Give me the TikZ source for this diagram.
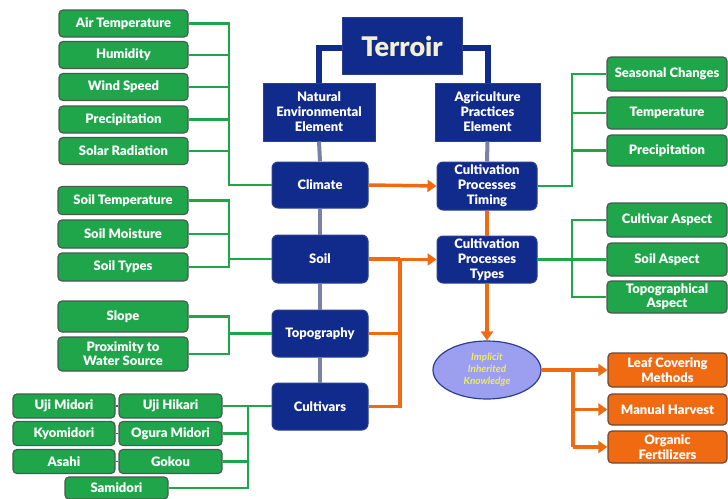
\documentclass[tikz,border=0pt]{standalone}
\usepackage{fontspec}
\setmainfont{Lato}[BoldFont={Lato Black},BoldItalicFont={Lato Bold Italic}]
\usetikzlibrary{arrows.meta,shapes.geometric}
\definecolor{gfill}{HTML}{1FA64B}
\definecolor{gbord}{HTML}{4A5A50}
\definecolor{navy}{HTML}{112B8C}
\definecolor{navyb}{HTML}{2A3F8F}
\definecolor{grayln}{HTML}{7A80A8}
\definecolor{orng}{HTML}{F06A12}
\definecolor{obord}{HTML}{6A4A3A}
\definecolor{lav}{HTML}{9C9FF0}
\definecolor{ytext}{HTML}{EEEE55}
\definecolor{tertxt}{HTML}{F4F0D2}
\begin{document}
\begin{tikzpicture}[x=1pt,y=-1pt,
  gbox/.style={draw=gbord, fill=gfill, rounded corners=4pt, line width=1.2pt, text=white,
    font=\bfseries\fontsize{13}{14}\selectfont, align=center, inner sep=0pt},
  bbox/.style={draw=navyb, fill=navy, line width=1pt, text=white,
    font=\bfseries\fontsize{13}{15}\selectfont, align=center, inner sep=0pt},
  rbox/.style={bbox, rounded corners=6pt},
  obox/.style={draw=obord, fill=orng, rounded corners=4pt, line width=1.2pt, text=white,
    font=\bfseries\fontsize{13}{15}\selectfont, align=center, inner sep=0pt},
  gline/.style={draw=gfill, line width=2.6pt},
  nline/.style={draw=navy, line width=6pt},
  grline/.style={draw=grayln, line width=4pt},
  oline/.style={draw=orng, line width=3.5pt},
  oarrow/.style={oline, -{Triangle[width=12pt,length=9pt]}},
  sline/.style={draw=gbord, line width=1.5pt}
]
\useasboundingbox (0,0) rectangle (728,498);
% ---- blue nodes
\node[bbox, minimum width=120pt, minimum height=57pt, font=\bfseries\fontsize{27}{28}\selectfont, text=tertxt] (terroir) at (402,46) {Terroir};
\node[bbox, minimum width=112pt, minimum height=58pt] (natural) at (319,112) {Natural\\Environmental\\Element};
\node[bbox, minimum width=105pt, minimum height=58pt] (agri) at (487.5,112) {Agriculture\\Practices\\Element};
\node[rbox, minimum width=96pt, minimum height=46pt] (climate) at (320,185) {Climate};
\node[rbox, minimum width=96pt, minimum height=48pt] (soil) at (320,259) {Soil};
\node[rbox, minimum width=96pt, minimum height=47pt] (topo) at (320,333.5) {Topography};
\node[rbox, minimum width=96pt, minimum height=47pt] (cultivars) at (320,406.5) {Cultivars};
\node[rbox, minimum width=100pt, minimum height=48pt] (timing) at (487,186) {Cultivation\\Processes\\Timing};
\node[rbox, minimum width=100pt, minimum height=47pt] (types) at (487,259.5) {Cultivation\\Processes\\Types};
\node[ellipse, draw=navyb, fill=lav, line width=1.2pt, minimum width=108pt, minimum height=58pt, inner sep=0pt,
  text=ytext, align=center, font=\bfseries\itshape\fontsize{10}{12}\selectfont] (ell) at (487,370) {Implicit\\Inherited\\Knowledge};
% ---- left green nodes
\node[gbox, minimum width=129pt, minimum height=27pt] (airt) at (123.5,23.5) {Air Temperature};
\node[gbox, minimum width=129pt, minimum height=27pt] (hum) at (123.5,55) {Humidity};
\node[gbox, minimum width=129pt, minimum height=27pt] (wind) at (123.5,87) {Wind Speed};
\node[gbox, minimum width=129pt, minimum height=27pt] (prec) at (123.5,119.5) {Precipitation};
\node[gbox, minimum width=129pt, minimum height=27pt] (solar) at (123.5,151) {Solar Radiation};
\node[gbox, minimum width=130pt, minimum height=28pt] (soilt) at (123,200.5) {Soil Temperature};
\node[gbox, minimum width=130pt, minimum height=28pt] (soilm) at (123,234) {Soil Moisture};
\node[gbox, minimum width=130pt, minimum height=28pt] (soilty) at (123,267) {Soil Types};
\node[gbox, minimum width=130pt, minimum height=31pt] (slope) at (123,316.5) {Slope};
\node[gbox, minimum width=130pt, minimum height=34pt] (prox) at (123,354) {Proximity to\\Water Source};
\node[gbox, minimum width=102pt, minimum height=24pt] (ujim) at (64,406) {Uji Midori};
\node[gbox, minimum width=103pt, minimum height=24pt] (ujih) at (170.5,406) {Uji Hikari};
\node[gbox, minimum width=102pt, minimum height=24pt] (kyo) at (64,433.5) {Kyomidori};
\node[gbox, minimum width=103pt, minimum height=24pt] (ogura) at (170.5,433.5) {Ogura Midori};
\node[gbox, minimum width=102pt, minimum height=24pt] (asahi) at (64,461.5) {Asahi};
\node[gbox, minimum width=103pt, minimum height=24pt] (gokou) at (170.5,461.5) {Gokou};
\node[gbox, minimum width=103pt, minimum height=22pt] (sami) at (116.5,488) {Samidori};
% ---- right green nodes
\node[gbox, minimum width=120pt, minimum height=34pt] (seas) at (667,74) {Seasonal Changes};
\node[gbox, minimum width=120pt, minimum height=32pt] (temp) at (667,113) {Temperature};
\node[gbox, minimum width=120pt, minimum height=31pt] (precr) at (667,150.5) {Precipitation};
\node[gbox, minimum width=120pt, minimum height=34pt] (cula) at (667,220) {Cultivar Aspect};
\node[gbox, minimum width=120pt, minimum height=33pt] (soila) at (667,259.5) {Soil Aspect};
\node[gbox, minimum width=120pt, minimum height=32pt] (topa) at (667,297) {Topographical\\Aspect};
% ---- orange nodes
\node[obox, minimum width=119pt, minimum height=34pt] (leaf) at (667.5,370) {Leaf Covering\\Methods};
\node[obox, minimum width=119pt, minimum height=31pt] (manual) at (667.5,409.5) {Manual Harvest};
\node[obox, minimum width=119pt, minimum height=32pt] (organic) at (667.5,447) {Organic\\Fertilizers};
% ---- junction coordinates
\coordinate (j1) at (229,0);
\coordinate (j3) at (248,0);
\coordinate (oj) at (400,0);
\coordinate (oj2) at (573,0);
\coordinate (rj) at (572,0);
% ---- connectors
\draw[nline] ([yshift=-2pt]terroir.west) -| (natural.north);
\draw[nline] ([yshift=-2pt]terroir.east) -| (agri.north);
\draw[grline] (natural.south) -- (climate.north);
\draw[grline] (climate.south) -- (soil.north);
\draw[grline] (soil.south) -- (topo.north);
\draw[grline] (topo.south) -- (cultivars.north);
\draw[grline] (agri.south) -- (timing.north);
\draw[oline] (timing.south) -- (types.north);
\draw[oarrow] (types.south) -- (ell.north);
\draw[oarrow] (climate.east) -- (timing.west);
\draw[oline] (soil.east) -- (soil.east -| oj);
\draw[oline] (topo.east) -- (topo.east -| oj);
\draw[oline] (cultivars.east) -| (oj |- soil.east);
\draw[oarrow] (oj |- types.west) -- (types.west);
\draw[oline] (ell.east) -| (oj2 |- organic.west);
\draw[oarrow] (oj2 |- leaf.west) -- (leaf.west);
\draw[oarrow] (oj2 |- manual.west) -- (manual.west);
\draw[oarrow] (oj2 |- organic.west) -- (organic.west);
% left green connectors
\draw[gline] (airt.east) -| (j1 |- climate.west) -- (climate.west);
\draw[gline] (hum.east) -- (hum.east -| j1);
\draw[gline] (wind.east) -- (wind.east -| j1);
\draw[gline] (prec.east) -- (prec.east -| j1);
\draw[gline] (solar.east) -- (solar.east -| j1);
\draw[gline] (soilt.east) -| (j1 |- soilty.east) -- (soilty.east);
\draw[gline] (soilm.east) -- (soilm.east -| j1);
\draw[gline] (j1 |- soil.west) -- (soil.west);
\draw[gline] (slope.east) -| (j1 |- prox.east) -- (prox.east);
\draw[gline] (j1 |- topo.west) -- (topo.west);
\draw[gline] (ujih.east) -- (ujih.east -| cultivars.west);
\draw[gline] (j3 |- ujih.east) |- (sami.east);
\draw[gline] (ogura.east) -- (ogura.east -| j3);
\draw[gline] (gokou.east) -- (gokou.east -| j3);
\draw[sline] (ujim.east) -- (ujih.west);
\draw[sline] (kyo.east) -- (ogura.west);
\draw[sline] (asahi.east) -- (gokou.west);
% right green connectors
\draw[gline] (timing.east) -| (rj |- seas.west) -- (seas.west);
\draw[gline] (temp.west) -- (temp.west -| rj);
\draw[gline] (precr.west) -- (precr.west -| rj);
\draw[gline] (cula.west) -| (rj |- topa.west) -- (topa.west);
\draw[gline] (soila.west) -- (soila.west -| rj);
\draw[gline] (types.east) -- (types.east -| rj);
\end{tikzpicture}
\end{document}
